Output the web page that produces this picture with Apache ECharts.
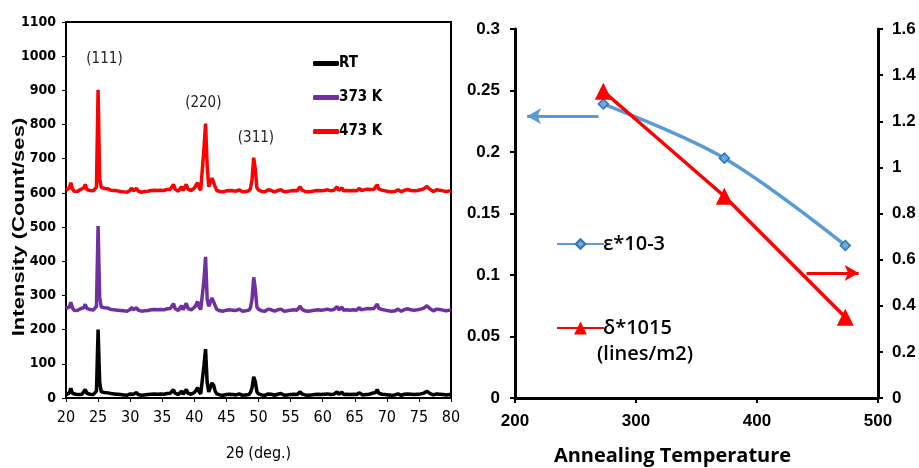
<!DOCTYPE html>
<html>
<head>
<meta charset="utf-8">
<script src="https://cdn.jsdelivr.net/npm/echarts@6/dist/echarts.min.js"></script>
<style>
html,body{margin:0;padding:0;background:#fff;}
#chart{width:919px;height:468px;}
</style>
</head>
<body>
<div id="chart"></div>
<script>
// ---------- XRD data (2θ grid 20..80, step 0.25) ----------
const thetaStart = 20;
const thetaStep = 0.25;
const xrdNames = ['RT', '373 K', '473 K'];
const xrdAxisTitle = 'Intensity (Count/ses)';

const rtIntensity = [
 10,12,14,28,14,10,11,9,10,12,11,16,25,14,10,11,9,10,12,20,
 200,45,18,14,16,13,15,14,13,15,12,13,11,12,10,11,9,10,8,10,
 12,16,11,13,16,10,9,8,10,9,8,10,9,11,8,12,13,11,10,12,
 9,11,10,13,12,14,16,24,14,11,10,13,20,11,14,25,14,12,11,14,
 16,22,30,18,12,14,95,143,45,18,22,44,38,20,12,10,9,10,8,9,
 10,9,11,15,10,8,9,10,12,9,8,10,9,12,10,16,30,62,48,18,
 12,10,9,11,8,10,12,16,11,9,8,10,11,14,13,9,8,10,9,8,
 10,9,11,8,10,12,18,12,10,9,11,8,10,9,8,10,9,11,8,10,
 9,11,10,12,9,10,12,11,14,18,11,13,17,10,9,11,8,10,9,11,
 12,10,13,15,11,9,12,10,13,11,12,14,13,16,25,14,10,11,9,10,
 12,9,10,8,11,9,10,12,9,8,10,11,9,12,14,11,9,10,8,11,
 10,12,11,14,16,20,17,13,11,9,10,12,9,11,8,10,12,9,11,10,
 9
];
const k373Intensity = [
 262,258,266,280,264,257,259,256,258,261,259,264,274,262,257,259,255,257,260,268,
 503,295,266,262,264,260,263,261,259,262,258,260,257,259,256,258,255,257,254,256,
 259,265,258,261,264,257,255,254,257,255,254,256,255,258,254,259,262,258,256,259,
 255,258,256,261,259,262,266,276,262,258,256,260,270,258,262,277,262,259,258,262,
 265,272,282,266,259,262,345,413,290,268,272,293,288,270,259,256,255,257,254,256,
 257,255,258,263,257,254,256,257,260,256,254,257,255,259,257,264,290,353,320,266,
 260,257,255,258,254,257,260,264,258,255,254,257,258,262,260,256,254,257,255,254,
 257,255,258,254,257,260,269,260,257,255,258,254,257,255,254,257,255,258,254,257,
 255,258,257,260,255,257,261,259,263,268,258,262,266,257,255,258,254,257,255,258,
 260,257,261,264,258,255,260,257,262,259,261,263,262,266,275,262,257,259,255,257,
 260,255,257,254,258,255,257,260,255,254,257,259,255,261,264,258,255,257,254,258,
 257,260,259,263,266,270,266,261,258,255,257,260,255,259,254,257,260,255,259,257,
 256
];
const k473Intensity = [
 608,606,614,630,612,605,607,604,606,610,608,614,625,610,605,607,603,606,609,617,
 902,640,616,611,613,609,612,610,608,611,607,609,606,608,604,606,603,605,602,605,
 608,614,606,610,613,605,603,602,605,604,602,605,604,607,603,608,611,607,605,608,
 604,607,605,610,608,611,615,625,611,607,605,609,618,607,611,625,611,608,607,611,
 614,622,630,615,608,611,730,803,680,618,622,643,638,618,607,605,604,606,603,605,
 606,604,607,612,606,603,605,606,609,605,603,606,604,608,606,613,640,703,670,615,
 609,606,604,607,603,606,609,613,607,604,603,606,607,611,609,605,603,606,604,603,
 606,604,607,603,606,609,618,609,606,604,607,603,606,604,603,606,604,607,603,606,
 604,607,606,609,604,606,610,608,612,617,607,611,615,606,604,607,603,606,604,607,
 609,606,610,613,607,604,609,606,611,608,610,612,611,615,624,611,606,608,604,606,
 609,604,606,603,607,604,606,609,604,603,606,608,604,610,613,607,604,606,603,607,
 606,609,608,612,615,619,615,610,607,604,606,609,604,608,603,606,609,604,608,606,
 605
];
const peakLabels = ['(111)', '(220)', '(311)'];
const peakLabelTheta = [26.0, 41.4, 49.6];
const peakLabelIntensity = [992, 862, 760];

// ---------- Annealing data ----------
const annealTemp = [273, 373, 473];
const strainEps = [0.239, 0.195, 0.124];
const dislocDelta = [1.33, 0.875, 0.35];
const strainName = 'ε*10-3';
const deltaName = 'δ*1015';
const deltaUnit = '(lines/m2)';

const twoTheta = rtIntensity.map((_, i) => thetaStart + i * thetaStep);
const toPairs = arr => arr.map((v, i) => [twoTheta[i], v]);

const narrow = "'Liberation Sans Narrow','DejaVu Sans Condensed',Arial,sans-serif";
const arial = "'Liberation Sans',Arial,sans-serif";
const calibri = "'Open Sans','Liberation Sans',sans-serif";
const plain = v => String(v);

const chart = echarts.init(document.getElementById('chart'));
const option = {
  animation: false,
  backgroundColor: '#fff',
  grid: [
    {left: 66, right: 468, top: 22, bottom: 70, show: true, borderColor: '#000', borderWidth: 2, backgroundColor: 'transparent', containLabel: false, outerBoundsMode: 'none'},
    {left: 515, right: 41, top: 29, bottom: 70, containLabel: false, outerBoundsMode: 'none'}
  ],
  legend: [
    {
      data: xrdNames, orient: 'vertical', left: 308, top: 51, itemGap: 19,
      icon: 'roundRect', itemWidth: 26, itemHeight: 5,
      textStyle: {fontFamily: narrow, fontWeight: 'bold', fontSize: 15, color: '#000', padding: [0,0,0,-5]}
    },
    {
      data: [strainName], orient: 'vertical', left: 551, top: 229,
      itemWidth: 47, itemHeight: 12,
      textStyle: {fontFamily: calibri, fontWeight: 600, fontSize: 20, color: '#000', padding: [0,0,0,-6]}
    },
    {
      data: [deltaName], orient: 'vertical', left: 551, top: 313,
      itemWidth: 47, itemHeight: 16,
      textStyle: {fontFamily: calibri, fontWeight: 600, fontSize: 20, color: '#000', padding: [0,0,0,-6]}
    }
  ],
  graphic: [
    {type: 'text', left: 597, top: 344, style: {text: deltaUnit, font: "600 20px 'Open Sans','Liberation Sans',sans-serif", fill: '#000'}},
    {type: 'text', x: 19, y: 227, rotation: Math.PI / 2, scaleX: 1.3,
     style: {text: xrdAxisTitle, font: "bold 17px 'Liberation Sans',Arial,sans-serif", fill: '#000', align: 'center', verticalAlign: 'middle'}}
  ],
  xAxis: [
    {
      gridIndex: 0, type: 'value', min: 20, max: 80, interval: 5,
      axisLine: {show: true, onZero: false, lineStyle: {color: '#000', width: 2}},
      axisTick: {show: true, length: 4, lineStyle: {color: '#000', width: 1}},
      axisLabel: {fontFamily: narrow, fontSize: 16, color: '#000', margin: 12, formatter: plain},
      splitLine: {show: false},
      name: '2θ (deg.)', nameLocation: 'middle', nameGap: 48,
      nameTextStyle: {fontFamily: narrow, fontSize: 16, color: '#000'}
    },
    {
      gridIndex: 1, type: 'value', min: 200, max: 500, interval: 100,
      axisLine: {show: true, onZero: false, lineStyle: {color: '#000', width: 3}},
      axisTick: {show: true, length: 5, lineStyle: {color: '#000', width: 2}},
      axisLabel: {fontFamily: arial, fontWeight: 'bold', fontSize: 17, color: '#000', margin: 15, formatter: plain},
      splitLine: {show: false},
      name: 'Annealing Temperature', nameLocation: 'middle', nameGap: 48,
      nameTextStyle: {fontFamily: calibri, fontWeight: 'bold', fontSize: 20, color: '#000', padding: [0, 48, 0, 0]}
    }
  ],
  yAxis: [
    {
      gridIndex: 0, type: 'value', min: 0, max: 1100, interval: 100,
      axisLine: {show: true, lineStyle: {color: '#000', width: 2}},
      axisTick: {show: true, length: 4, lineStyle: {color: '#000', width: 1}},
      axisLabel: {fontFamily: narrow, fontWeight: 'bold', fontSize: 14, color: '#000', margin: 10, formatter: plain},
      splitLine: {show: false}
    },
    {
      gridIndex: 1, type: 'value', min: 0, max: 0.3, interval: 0.05, position: 'left',
      axisLine: {show: true, lineStyle: {color: '#000', width: 3}},
      axisTick: {show: true, length: 5, lineStyle: {color: '#000', width: 2}},
      axisLabel: {fontFamily: arial, fontWeight: 'bold', fontSize: 17, color: '#000', margin: 15, formatter: plain},
      splitLine: {show: false}
    },
    {
      gridIndex: 1, type: 'value', min: 0, max: 1.6, interval: 0.2, position: 'right',
      axisLine: {show: true, lineStyle: {color: '#000', width: 3}},
      axisTick: {show: true, length: 5, lineStyle: {color: '#000', width: 2}},
      axisLabel: {fontFamily: arial, fontWeight: 'bold', fontSize: 17, color: '#000', margin: 14, formatter: plain},
      splitLine: {show: false}
    }
  ],
  series: [
    {
      name: xrdNames[0], type: 'line', xAxisIndex: 0, yAxisIndex: 0,
      data: toPairs(rtIntensity), showSymbol: false, symbol: 'none',
      lineStyle: {color: '#000', width: 3.5}, itemStyle: {color: '#000'}
    },
    {
      name: xrdNames[1], type: 'line', xAxisIndex: 0, yAxisIndex: 0,
      data: toPairs(k373Intensity), showSymbol: false, symbol: 'none',
      lineStyle: {color: '#7030A0', width: 3.5}, itemStyle: {color: '#7030A0'}
    },
    {
      name: xrdNames[2], type: 'line', xAxisIndex: 0, yAxisIndex: 0,
      data: toPairs(k473Intensity), showSymbol: false, symbol: 'none',
      lineStyle: {color: '#FF0000', width: 3.5}, itemStyle: {color: '#FF0000'},
      markPoint: {
        symbol: 'circle', symbolSize: 0, silent: true,
        label: {show: true, position: 'inside', formatter: '{b}', fontFamily: narrow, fontSize: 15, color: '#222'},
        data: peakLabels.map((t, i) => ({name: t, coord: [peakLabelTheta[i], peakLabelIntensity[i]]}))
      }
    },
    {
      name: strainName, type: 'line', xAxisIndex: 1, yAxisIndex: 1,
      data: annealTemp.map((t, i) => [t, strainEps[i]]),
      smooth: 0.35, symbol: 'diamond', symbolSize: 10,
      lineStyle: {color: '#5B9BD5', width: 3.5},
      itemStyle: {color: '#6FA8DC', borderColor: '#2E75B6', borderWidth: 1.5},
      markLine: {
        silent: true, symbol: ['none', 'arrow'], symbolSize: [12, 14],
        lineStyle: {color: '#5B9BD5', width: 3, type: 'solid'}, label: {show: false},
        data: [[{coord: [269, 0.229]}, {coord: [210, 0.229]}]]
      }
    },
    {
      name: deltaName, type: 'line', xAxisIndex: 1, yAxisIndex: 2,
      data: annealTemp.map((t, i) => [t, dislocDelta[i]]),
      symbol: 'triangle', symbolSize: 17,
      lineStyle: {color: '#FF0000', width: 3.5},
      itemStyle: {color: '#FF0000'},
      markLine: {
        silent: true, symbol: ['none', 'arrow'], symbolSize: [12, 14],
        lineStyle: {color: '#FF0000', width: 3, type: 'solid'}, label: {show: false},
        data: [[{coord: [441, 0.542]}, {coord: [484, 0.542]}]]
      }
    }
  ]
};
chart.setOption(option);
</script>
</body>
</html>
